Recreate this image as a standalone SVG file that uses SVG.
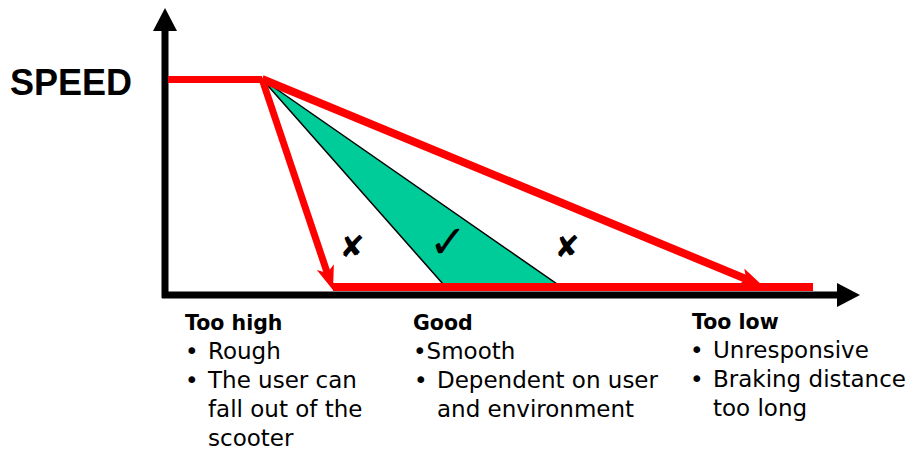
<svg xmlns="http://www.w3.org/2000/svg" width="907" height="453" viewBox="0 0 907 453">
<style>
.red{stroke:#ff0000;stroke-width:7;fill:none}
.axis{stroke:#000;stroke-width:7;fill:none}
.t{font-family:"DejaVu Sans",sans-serif;font-size:23px;fill:#000}
.h{font-family:"DejaVu Sans",sans-serif;font-size:20.5px;font-weight:bold;fill:#000}
.mk{font-family:"DejaVu Sans",sans-serif;fill:#000;text-anchor:middle}
</style>
<defs>
<marker id="redhead" viewBox="0 -10 24 20" refX="8" refY="0" markerWidth="24" markerHeight="20" markerUnits="userSpaceOnUse" orient="auto">
<path d="M0,-9 L24,0 L0,9 L6,0 z" fill="#ff0000"/>
</marker>
</defs>
<rect width="907" height="453" fill="#fff"/>
<g id="good-region">
<polygon points="262,79 443,284 557,284" fill="#00cc99" stroke="#000" stroke-width="1.5"/>
</g>
<g id="axes">
<line class="axis" x1="165" y1="298" x2="165" y2="30"/>
<polygon points="153,31 165,8 177,31" fill="#000"/>
<line class="axis" x1="162" y1="295" x2="838" y2="295"/>
<polygon points="837,283 860,295 837,307" fill="#000"/>
</g>
<g id="connectors">
<line class="red" x1="168" y1="79.5" x2="262" y2="79.5"/>
<line class="red" x1="333" y1="287" x2="813" y2="287" style="stroke-width:8"/>
<line class="red" x1="262" y1="79" x2="327.9" y2="274.8" marker-end="url(#redhead)"/>
<line class="red" x1="262" y1="79" x2="748.2" y2="279.9" style="stroke-width:8" marker-end="url(#redhead)"/>
</g>
<g id="marks">
<text class="mk" x="352" y="257" font-size="30">✘</text>
<text class="mk" x="448" y="258" font-size="46">✓</text>
<text class="mk" x="567" y="257" font-size="30">✘</text>
</g>
<g id="speed-label">
<text x="10" y="95" font-family="Liberation Sans, Arial, sans-serif" font-weight="bold" font-size="36">SPEED</text>
</g>
<g id="too-high">
<text class="h" x="185" y="330">Too high</text>
<text class="t" x="185" y="359">•</text><text class="t" x="208" y="359">Rough</text>
<text class="t" x="185" y="388">•</text><text class="t" x="208" y="388">The user can</text>
<text class="t" x="208" y="417">fall out of the</text>
<text class="t" x="208" y="446">scooter</text>
</g>
<g id="good">
<text class="h" x="413" y="330">Good</text>
<text class="t" x="413" y="359">•Smooth</text>
<text class="t" x="414" y="388">•</text><text class="t" x="437" y="388">Dependent on user</text>
<text class="t" x="437" y="417">and environment</text>
</g>
<g id="too-low">
<text class="h" x="692" y="329">Too low</text>
<text class="t" x="690" y="358">•</text><text class="t" x="713" y="358">Unresponsive</text>
<text class="t" x="690" y="387">•</text><text class="t" x="713" y="387">Braking distance</text>
<text class="t" x="713" y="416">too long</text>
</g>
</svg>
